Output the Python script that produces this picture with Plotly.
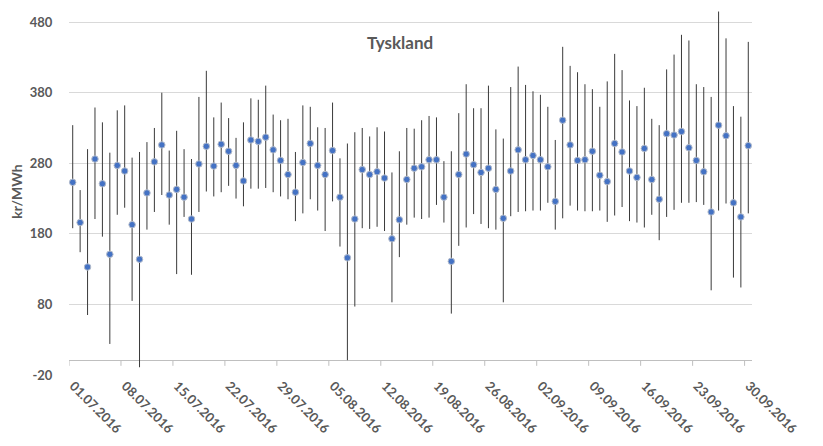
import plotly.graph_objects as go

# Dates (one per day, 01.07.2016 - 30.09.2016)
start_labels = ["01.07.2016", "08.07.2016", "15.07.2016", "22.07.2016", "29.07.2016",
                "05.08.2016", "12.08.2016", "19.08.2016", "26.08.2016", "02.09.2016",
                "09.09.2016", "16.09.2016", "23.09.2016", "30.09.2016"]

avg_price = [253, 196, 133, 286, 251, 151, 277, 269, 193, 144,
             238, 282, 306, 235, 243, 232, 201, 279, 304, 276,
             307, 297, 277, 255, 313, 311, 317, 299, 284, 264,
             239, 281, 308, 277, 264, 298, 232, 146, 201, 271,
             264, 268, 259, 173, 200, 257, 273, 275, 285, 285,
             232, 141, 264, 293, 278, 267, 273, 243, 202, 269,
             299, 285, 291, 285, 275, 226, 341, 306, 284, 285,
             297, 263, 254, 308, 296, 269, 260, 301, 257, 229,
             322, 320, 325, 302, 284, 268, 211, 334, 319, 224,
             204, 305]

max_price = [334, 242, 300, 359, 338, 295, 355, 362, 288, 296,
             310, 330, 380, 298, 326, 300, 286, 374, 411, 345,
             366, 344, 316, 338, 372, 370, 390, 349, 341, 343,
             296, 362, 360, 331, 330, 366, 287, 308, 324, 330,
             318, 331, 325, 267, 297, 330, 329, 341, 347, 345,
             283, 297, 351, 392, 358, 358, 390, 328, 315, 388,
             417, 391, 382, 377, 360, 313, 445, 418, 409, 392,
             385, 360, 396, 435, 412, 369, 361, 387, 343, 334,
             413, 434, 462, 454, 392, 388, 374, 495, 457, 361,
             346, 452]

min_price = [188, 154, 65, 201, 176, 24, 207, 217, 85, -9,
             186, 211, 235, 193, 123, 204, 122, 211, 240, 233,
             239, 248, 230, 219, 244, 244, 245, 239, 233, 229,
             198, 209, 229, 213, 184, 226, 162, 1, 77, 188,
             187, 190, 184, 83, 147, 193, 203, 201, 203, 221,
             196, 67, 163, 189, 208, 194, 188, 186, 83, 205,
             211, 212, 213, 213, 224, 186, 202, 220, 213, 212,
             212, 213, 197, 206, 218, 198, 196, 189, 207, 171,
             204, 214, 224, 224, 225, 221, 100, 213, 223, 118,
             104, 209]

y_ticks = [-20, 80, 180, 280, 380, 480]
y_tick_text = ["-20", "80", "180", "280", "380", "480"]

day_index = list(range(len(avg_price)))
err_plus = [mx - av for mx, av in zip(max_price, avg_price)]
err_minus = [av - mn for mn, av in zip(min_price, avg_price)]
tick_pos = [i * 7 - 0.5 for i in range(len(start_labels))]
# rotated labels hang from the tick; nudge so the text's upper-left corner sits at the tick
label_pos = [p + 0.6 for p in tick_pos]

TXT = "#595959"
AXC = "#BFBFBF"
FONT = "Lato"
# page body has an 8px default margin: figure is 815x438 placed at (8, 8)
W, H = 815, 438
M_L, M_R, M_T, M_B = 61, 71, 0, 71

fig = go.Figure()
# tick marks hanging below the horizontal axis that crosses at y = 0
fig.add_trace(go.Scatter(
    x=tick_pos, y=[0] * len(tick_pos), mode="markers",
    marker=dict(size=1, color="rgba(0,0,0,0)"),
    error_y=dict(type="data", symmetric=False, array=[0] * len(tick_pos),
                 arrayminus=[7] * len(tick_pos), color=AXC, thickness=1, width=0),
    cliponaxis=False, showlegend=False, hoverinfo="skip",
))
fig.add_trace(go.Scatter(
    x=day_index, y=avg_price, mode="markers",
    marker=dict(size=6.5, color="#4472C4", line=dict(width=1, color="#B4BCCB")),
    error_y=dict(type="data", symmetric=False, array=err_plus, arrayminus=err_minus,
                 color="#3a3a3a", thickness=1, width=0),
    cliponaxis=False, showlegend=False, hoverinfo="skip",
))

fig.update_layout(
    width=W, height=H,
    margin=dict(l=M_L, r=M_R, t=M_T, b=M_B, autoexpand=False),
    paper_bgcolor="white", plot_bgcolor="white",
    font=dict(family=FONT, color=TXT),
    annotations=[dict(text="<b>Tyskland</b>", x=(400 - 8 - M_L) / (W - M_L - M_R),
                      y=1 - (43 - 8 - M_T) / (H - M_T - M_B), xref="paper", yref="paper",
                      yanchor="middle", xanchor="center", showarrow=False,
                      font=dict(size=17, color=TXT, family=FONT))],
    xaxis=dict(range=[-0.5, 91.5], tickvals=label_pos,
               ticktext=["<b>%s</b>" % t for t in start_labels],
               tickangle=45, showgrid=False, zeroline=False, showline=False, ticks="",
               automargin=False,
               tickfont=dict(size=13, color=TXT, family=FONT)),
    yaxis=dict(range=[-20, 500], tickvals=y_ticks,
               ticktext=["<b>%s</b>" % t for t in y_tick_text],
               showgrid=True, gridcolor="#D9D9D9", gridwidth=1,
               zeroline=True, zerolinecolor=AXC, zerolinewidth=1,
               showline=False, ticks="outside", ticklen=13, tickcolor="rgba(0,0,0,0)",
               automargin=False,
               tickfont=dict(size=13, color=TXT, family=FONT),
               title=dict(text="<b>kr/MWh</b>", font=dict(size=14, color=TXT, family=FONT),
                          standoff=3)),
)

fig.write_html("out.html")
